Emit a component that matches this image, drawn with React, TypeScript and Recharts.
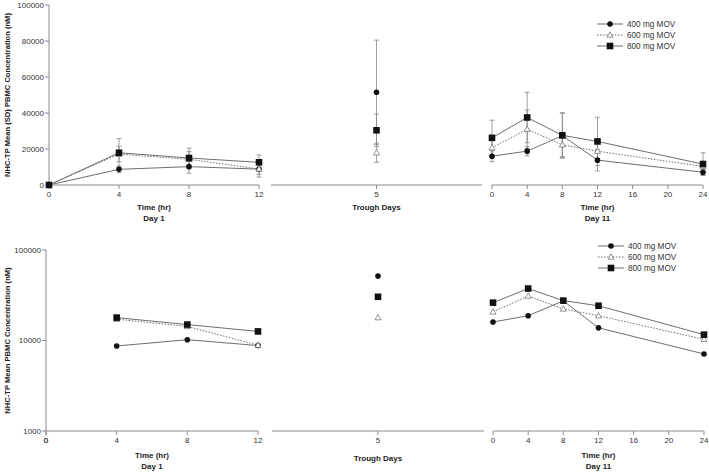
import React from 'react';
import { LineChart, Line, XAxis, YAxis, ErrorBar, Legend, ReferenceDot } from 'recharts';

// Day 1 (hours post dose)
const day1Hours = [0, 4, 8, 12];
const day1Mov400 = [0, 8700, 10200, 8800];
const day1Sd400 = [0, 1900, 3700, 4400];
const day1Mov600 = [0, 17200, 14300, 8900];
const day1Sd600 = [0, 4300, 4200, 3000];
const day1Mov800 = [0, 17900, 15000, 12600];
const day1Sd800 = [0, 7900, 5500, 4100];

// trough days
const troughDays = [5];
const troughMov400 = [51500];
const troughSd400 = [29000];
const troughMov600 = [17900];
const troughSd600 = [5300];
const troughMov800 = [30400];
const troughSd800 = [9000];

// Day 11 (hours post dose)
const day11Hours = [0, 4, 8, 12, 24];
const day11Mov400 = [16000, 18800, 27400, 13800, 7100];
const day11Sd400 = [3000, 2600, 12500, 6000, 1700];
const day11Mov600 = [20700, 31000, 22300, 18800, 10300];
const day11Sd600 = [5000, 10700, 6500, 5000, 3000];
const day11Mov800 = [26200, 37500, 27600, 24200, 11600];
const day11Sd800 = [9800, 14000, 12500, 13400, 6300];

const linearTicks = [0, 20000, 40000, 60000, 80000, 100000];
const logTicks = [1000, 10000, 100000];
const day1Ticks = [0, 4, 8, 12];
const troughTicks = [5];
const day11Ticks = [0, 4, 8, 12, 16, 20, 24];

const FONT = '"Liberation Sans", Arial, Helvetica, sans-serif';
const LINE = '#6e6e6e';
const AXIS = '#8a8a8a';
const TEXT = '#333';

type Shape = 'circle' | 'triangle' | 'square';

const seriesList: { key: string; sdKey: string; name: string; shape: Shape; dash?: string }[] = [
  { key: 'mov400', sdKey: 'sd400', name: '400 mg MOV', shape: 'circle' },
  { key: 'mov600', sdKey: 'sd600', name: '600 mg MOV', shape: 'triangle', dash: '1.5 1.5' },
  { key: 'mov800', sdKey: 'sd800', name: '800 mg MOV', shape: 'square' },
];

const buildRows = (x: number[], a: number[], sa: number[], b: number[], sb: number[], c: number[], sc: number[]) =>
  x.map((t, i) => ({
    t,
    mov400: a[i],
    sd400: sa[i],
    mov600: b[i],
    sd600: sb[i],
    mov800: c[i],
    sd800: sc[i],
  }));

// the log panel cannot show the zero pre-dose samples
const positiveOnly = (rows: any[]) => rows.filter((r) => r.mov400 > 0 && r.mov600 > 0 && r.mov800 > 0);

const drawMarker = (shape: Shape, cx: number, cy: number, key?: string) => {
  if (shape === 'circle') return <circle key={key} cx={cx} cy={cy} r={2.8} fill="#111" />;
  if (shape === 'square') return <rect key={key} x={cx - 3.3} y={cy - 3.3} width={6.6} height={6.6} fill="#111" />;
  return (
    <path
      key={key}
      d={`M${cx},${cy - 3.2}L${cx + 3},${cy + 2.2}L${cx - 3},${cy + 2.2}Z`}
      fill="#fff"
      stroke="#777"
      strokeWidth={0.8}
    />
  );
};

const dotFor = (shape: Shape) => (props: any) => {
  const { cx, cy, index, value } = props;
  const key = `${shape}-${index}`;
  if (cx == null || cy == null || value == null || Number.isNaN(cy)) return <g key={key} />;
  return drawMarker(shape, cx, cy, key);
};

const YTitle = ({ viewBox, text }: any) => {
  const vb = viewBox || { x: 0, y: 0, width: 0, height: 0 };
  const cy = vb.y + vb.height / 2;
  return (
    <text
      x={7}
      y={cy}
      transform={`rotate(-90, 7, ${cy})`}
      textAnchor="middle"
      dominantBaseline="central"
      fontFamily={FONT}
      fontSize={7.6}
      fontWeight="bold"
      fill="#222"
    >
      {text}
    </text>
  );
};

const XTitle = ({ viewBox, lines, gap }: any) => {
  const vb = viewBox || { x: 0, y: 0, width: 0, height: 0 };
  const cx = vb.x + vb.width / 2;
  return (
    <text textAnchor="middle" fontFamily={FONT} fontSize={8} fontWeight="bold" fill="#222">
      {lines.map((l: string, i: number) => (
        <tspan key={l} x={cx} y={vb.y + gap + i * 11} dominantBaseline="central">
          {l}
        </tspan>
      ))}
    </text>
  );
};

const XTick = ({ x, y, payload }: any) => (
  <text x={x} y={y + 6} textAnchor="middle" fontFamily={FONT} fontSize={8} fill={TEXT}>
    {payload.value}
  </text>
);

// tick mark + label for an axis value with no plotted sample (drawn at the baseline point)
const BaselineTick = ({ viewBox, value }: any) => {
  const vb = viewBox || { x: 0, y: 0 };
  return (
    <g>
      <line x1={vb.x} x2={vb.x} y1={vb.y} y2={vb.y + 4} stroke={AXIS} />
      <text x={vb.x} y={vb.y + 12} textAnchor="middle" fontFamily={FONT} fontSize={8} fill={TEXT}>
        {value}
      </text>
    </g>
  );
};

const LegendBox = () => (
  <svg width={100} height={36} style={{ overflow: 'visible', display: 'block' }}>
    {seriesList.map((s, i) => {
      const y = 5 + i * 11;
      return (
        <g key={s.key}>
          <line x1={0} x2={26} y1={y} y2={y} stroke={LINE} strokeWidth={1} strokeDasharray={s.dash} />
          {drawMarker(s.shape, 13, y)}
          <text x={30} y={y} dominantBaseline="central" fontFamily={FONT} fontSize={8.2} fill={TEXT}>
            {s.name}
          </text>
        </g>
      );
    })}
  </svg>
);

const tickStyle = { fontSize: 8, fill: TEXT, fontFamily: FONT };

interface PanelProps {
  left: number;
  top: number;
  width: number;
  height: number;
  margin: { top: number; right: number; left: number; bottom: number };
  data: any[];
  domainX: [number, number];
  ticksX: number[];
  log: boolean;
  yAxisWidth?: number;
  yTitle?: string;
  xTitle: string[];
  titleGap: number;
  errors: boolean;
  legendTop?: number;
  legendLeft?: number;
}

const Panel: React.FC<PanelProps> = (p) => {
  const yDomain: [number, number] = p.log ? [1000, 100000] : [0, 100000];
  // recharts drops axis ticks that sit before the first plotted sample, add those back by hand
  const missingTicks = p.ticksX.filter((t) => t < p.data[0].t);
  return (
    <div style={{ position: 'absolute', left: p.left, top: p.top }}>
      <LineChart width={p.width} height={p.height} data={p.data} margin={p.margin}>
        <XAxis
          dataKey="t"
          type="number"
          domain={p.domainX}
          ticks={p.ticksX}
          interval={0}
          stroke={AXIS}
          tick={<XTick />}
          tickSize={4}
          height={50}
          label={<XTitle lines={p.xTitle} gap={p.titleGap} />}
        />
        <YAxis
          hide={!p.yAxisWidth}
          width={p.yAxisWidth || 0}
          type="number"
          scale={p.log ? 'log' : 'linear'}
          domain={yDomain}
          ticks={p.log ? logTicks : linearTicks}
          interval={0}
          stroke={AXIS}
          tick={tickStyle}
          tickSize={4}
          tickMargin={1}
          label={p.yTitle ? <YTitle text={p.yTitle} /> : undefined}
        />
        {missingTicks.map((t) => (
          <ReferenceDot
            key={`tick-${t}`}
            x={t}
            y={yDomain[0]}
            r={0}
            fill="none"
            stroke="none"
            ifOverflow="visible"
            label={<BaselineTick value={t} />}
          />
        ))}
        {seriesList.map((s) => (
          <Line
            key={s.key}
            dataKey={s.key}
            name={s.name}
            type="linear"
            stroke={LINE}
            strokeWidth={1}
            strokeDasharray={s.dash}
            dot={dotFor(s.shape)}
            activeDot={false}
            isAnimationActive={false}
          >
            {p.errors && (
              <ErrorBar dataKey={s.sdKey} direction="y" width={2.5} stroke="#888" strokeWidth={0.8} />
            )}
          </Line>
        ))}
        {p.legendTop !== undefined && (
          <Legend
            layout="vertical"
            align="center"
            verticalAlign="middle"
            content={<LegendBox />}
            wrapperStyle={{ top: p.legendTop, left: p.legendLeft, width: 100, height: 36 }}
          />
        )}
      </LineChart>
    </div>
  );
};

const App: React.FC = () => {
  const d1 = buildRows(day1Hours, day1Mov400, day1Sd400, day1Mov600, day1Sd600, day1Mov800, day1Sd800);
  const tr = buildRows(troughDays, troughMov400, troughSd400, troughMov600, troughSd600, troughMov800, troughSd800);
  const d11 = buildRows(day11Hours, day11Mov400, day11Sd400, day11Mov600, day11Sd600, day11Mov800, day11Sd800);
  const d1Log = positiveOnly(d1);

  return (
    <div style={{ position: 'absolute', left: 0, top: 0, width: 709, height: 474, background: '#fff', fontFamily: FONT }}>
      {/* linear panels: plot 5..185 */}
      <Panel left={0} top={0} width={265} height={235} margin={{ top: 5, right: 6, left: 0, bottom: 0 }}
        data={d1} domainX={[0, 12]} ticksX={day1Ticks} log={false} yAxisWidth={49}
        yTitle="NHC-TP Mean (SD) PBMC Concentration (nM)" xTitle={['Time (hr)', 'Day 1']} titleGap={22} errors />
      <Panel left={266} top={0} width={222} height={235} margin={{ top: 5, right: 6, left: 5, bottom: 0 }}
        data={tr} domainX={[0, 10]} ticksX={troughTicks} log={false}
        xTitle={['Trough Days']} titleGap={22} errors />
      <Panel left={487} top={0} width={222} height={235} margin={{ top: 5, right: 6, left: 5, bottom: 0 }}
        data={d11} domainX={[0, 24]} ticksX={day11Ticks} log={false}
        xTitle={['Time (hr)', 'Day 11']} titleGap={22} errors legendTop={19} legendLeft={110} />

      {/* log panels: plot 250..431 */}
      <Panel left={0} top={225} width={264} height={256} margin={{ top: 25, right: 6, left: 0, bottom: 0 }}
        data={d1Log} domainX={[0, 12]} ticksX={day1Ticks} log yAxisWidth={46}
        yTitle="NHC-TP Mean PBMC Concentration (nM)" xTitle={['Time (hr)', 'Day 1']} titleGap={24} errors={false} />
      <Panel left={267} top={225} width={223} height={256} margin={{ top: 25, right: 6, left: 5, bottom: 0 }}
        data={tr} domainX={[0, 10]} ticksX={troughTicks} log
        xTitle={['Trough Days']} titleGap={27} errors={false} />
      <Panel left={488} top={225} width={222} height={256} margin={{ top: 25, right: 6, left: 5, bottom: 0 }}
        data={d11} domainX={[0, 24]} ticksX={day11Ticks} log
        xTitle={['Time (hr)', 'Day 11']} titleGap={24} errors={false} legendTop={16} legendLeft={110} />
    </div>
  );
};

export default App;
